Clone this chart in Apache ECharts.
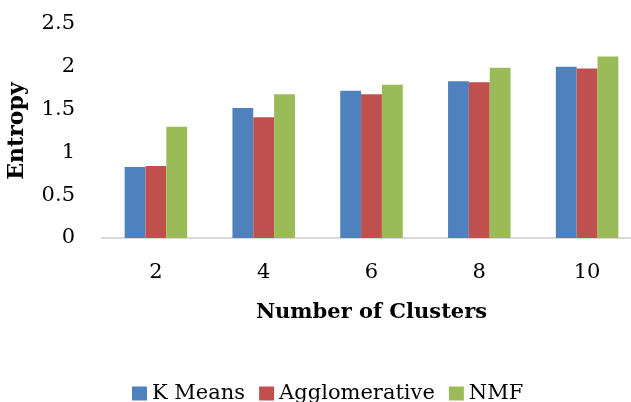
<!DOCTYPE html>
<html>
<head>
<meta charset="utf-8">
<script src="https://cdn.jsdelivr.net/npm/echarts@6/dist/echarts.min.js"></script>
<style>
  html, body { margin: 0; padding: 0; background: #fff; }
  #chart { width: 631px; height: 402px; }
</style>
</head>
<body>
<div id="chart"></div>
<script>
const clusters = ['2', '4', '6', '8', '10']
const kMeans = [0.83, 1.52, 1.72, 1.83, 2.0]
const agglomerative = [0.84, 1.41, 1.68, 1.82, 1.98]
const nmf = [1.30, 1.68, 1.79, 1.99, 2.12]

const font = 'DejaVu Serif'
const myChart = echarts.init(document.getElementById('chart'))

const barSeries = (name, data, color) => ({
  name: name,
  type: 'bar',
  data: data,
  itemStyle: { color: color },
  barGap: '0%',
  barCategoryGap: '42%'
})

myChart.setOption({
  animation: false,
  color: ['#4F81BD', '#C0504D', '#9BBB59'],
  legend: {
    top: 378,
    left: 127,
    icon: 'rect',
    itemWidth: 15,
    itemHeight: 14,
    itemGap: 14,
    textStyle: { fontFamily: font, fontSize: 21, color: '#000' }
  },
  grid: {
    left: 102,
    top: 24,
    width: 539,
    height: 214,
    outerBoundsMode: 'none'
  },
  xAxis: {
    type: 'category',
    data: clusters,
    name: 'Number of Clusters',
    nameLocation: 'middle',
    nameGap: 64,
    nameTextStyle: { fontFamily: font, fontSize: 21, fontWeight: 'bold', color: '#000' },
    axisLine: { lineStyle: { color: '#d9d9d9', width: 2 } },
    axisTick: { show: false },
    axisLabel: { fontFamily: font, fontSize: 21, color: '#000', margin: 24 }
  },
  yAxis: {
    type: 'value',
    min: 0,
    max: 2.5,
    interval: 0.5,
    name: 'Entropy',
    nameLocation: 'middle',
    nameGap: 74,
    nameTextStyle: { fontFamily: font, fontSize: 22, fontWeight: 'bold', color: '#000' },
    axisLine: { show: false },
    axisTick: { show: false },
    splitLine: { show: false },
    axisLabel: { fontFamily: font, fontSize: 21, color: '#000', margin: 27 }
  },
  series: [
    barSeries('K Means', kMeans, '#4F81BD'),
    barSeries('Agglomerative', agglomerative, '#C0504D'),
    barSeries('NMF', nmf, '#9BBB59')
  ]
})
</script>
</body>
</html>
